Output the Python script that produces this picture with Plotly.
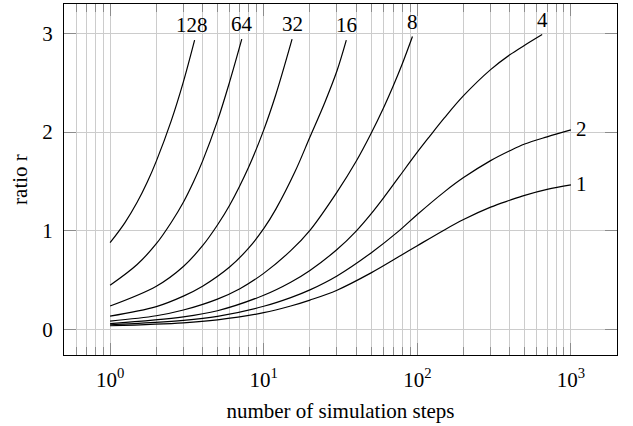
import math
import plotly.graph_objects as go

# ---- data ----
x_1 = [1, 3, 5, 10, 15, 20, 30, 50, 76, 100, 150, 200, 300, 400, 500, 700, 1000]
r_1 = [0.04, 0.07, 0.10, 0.172, 0.24, 0.30, 0.40, 0.575, 0.74, 0.85, 1.01, 1.115, 1.24, 1.31, 1.36, 1.42, 1.466]

x_2 = [1, 3, 5, 10, 15, 20, 30, 50, 76, 100, 150, 200, 300, 400, 500, 700, 1000]
r_2 = [0.05, 0.095, 0.135, 0.237, 0.325, 0.403, 0.544, 0.777, 1.0, 1.166, 1.395, 1.539, 1.711, 1.811, 1.879, 1.952, 2.022]

x_4 = [1, 3, 5, 10, 15, 20, 30, 40, 50, 60, 76, 100, 120, 150, 200, 300, 400, 500, 650]
r_4 = [0.061, 0.13, 0.192, 0.349, 0.481, 0.60, 0.811, 0.998, 1.172, 1.33, 1.546, 1.796, 1.954, 2.143, 2.368, 2.632, 2.782, 2.879, 2.987]

x_8 = [1, 2, 3, 5, 7, 10, 15, 20, 30, 40, 50, 60, 70, 80, 93]
r_8 = [0.087, 0.141, 0.199, 0.31, 0.415, 0.57, 0.80, 1.006, 1.393, 1.705, 1.986, 2.239, 2.474, 2.694, 2.967]

x_16 = [1, 2, 3, 4, 6, 8, 10, 12, 16, 20, 25, 30, 34.5]
r_16 = [0.138, 0.234, 0.34, 0.44, 0.634, 0.828, 1.022, 1.22, 1.60, 1.95, 2.30, 2.62, 2.93]

x_32 = [1, 2, 3, 4, 5, 6, 8, 10, 12, 15.3]
r_32 = [0.24, 0.44, 0.64, 0.85, 1.06, 1.26, 1.65, 2.02, 2.38, 2.94]

x_64 = [1, 1.5, 2, 2.5, 3, 3.5, 4, 5, 6, 7.2]
r_64 = [0.45, 0.66, 0.87, 1.085, 1.29, 1.50, 1.706, 2.113, 2.508, 2.94]

x_128 = [1, 1.25, 1.5, 1.75, 2, 2.5, 3, 3.55]
r_128 = [0.88, 1.084, 1.289, 1.497, 1.706, 2.113, 2.508, 2.93]

series_labels = ["1", "2", "4", "8", "16", "32", "64", "128"]
x_major_ticks = [1, 10, 100, 1000]
x_tick_text = ["10<sup>0</sup>", "10<sup>1</sup>", "10<sup>2</sup>", "10<sup>3</sup>"]
y_ticks = [0, 1, 2, 3]

series = [(x_1, r_1), (x_2, r_2), (x_4, r_4), (x_8, r_8),
          (x_16, r_16), (x_32, r_32), (x_64, r_64), (x_128, r_128)]

FONT = "Liberation Serif"
FS = 21
GRID = "#cccccc"
TICKC = "#8c8c8c"

fig = go.Figure()
annotations = []
for lab, (xs, rs) in zip(series_labels, series):
    fig.add_trace(go.Scatter(x=xs, y=rs, mode="lines",
                             line=dict(color="black", width=1.2, shape="spline", smoothing=1.0),
                             showlegend=False, hoverinfo="skip"))
    if lab in ("1", "2"):
        annotations.append(dict(x=math.log10(xs[-1]), y=rs[-1], text=lab, showarrow=False,
                                xanchor="left", yanchor="middle", xshift=3, yshift=1,
                                font=dict(family=FONT, size=FS, color="black")))
    else:
        annotations.append(dict(x=math.log10(xs[-1]), y=rs[-1], text=lab, showarrow=False,
                                xanchor="center", yanchor="bottom", yshift=1,
                                xshift=-3 if lab == "128" else 0,
                                font=dict(family=FONT, size=FS, color="black")))

minor_x = []
for d in [0.1, 1, 10, 100]:
    for k in range(2, 10):
        v = k * d
        if v >= 0.5:
            minor_x.append(round(v, 4))

fig.update_layout(
    width=633, height=426,
    margin=dict(l=64, r=16, t=4, b=71),
    paper_bgcolor="white", plot_bgcolor="white",
    font=dict(family=FONT, size=FS, color="black"),
    annotations=annotations,
    xaxis=dict(
        type="log", range=[-0.3, 3.3],
        tickmode="array", tickvals=x_major_ticks, ticktext=x_tick_text,
        ticks="inside", ticklen=12, tickwidth=1, tickcolor=TICKC,
        showgrid=True, gridcolor=GRID, gridwidth=1,
        showline=True, linecolor="black", linewidth=1.2, mirror="ticks",
        zeroline=False,
        ticklabelstandoff=6,
        tickfont=dict(family=FONT, size=FS),
        minor=dict(tickmode="array", tickvals=minor_x, ticks="inside", ticklen=8,
                   tickwidth=1, tickcolor=TICKC, showgrid=True, gridcolor=GRID, gridwidth=1),
        title=dict(text="number of simulation steps", standoff=12,
                   font=dict(family=FONT, size=FS)),
    ),
    yaxis=dict(
        range=[-0.256, 3.296],
        tickmode="array", tickvals=y_ticks,
        ticks="inside", ticklen=12, tickwidth=1, tickcolor=TICKC,
        showgrid=True, gridcolor=GRID, gridwidth=1,
        showline=True, linecolor="black", linewidth=1.2, mirror="ticks",
        zeroline=False,
        ticklabelstandoff=6,
        tickfont=dict(family=FONT, size=FS),
        title=dict(text="ratio r", standoff=8, font=dict(family=FONT, size=FS)),
    ),
)

fig.write_html("out.html")
